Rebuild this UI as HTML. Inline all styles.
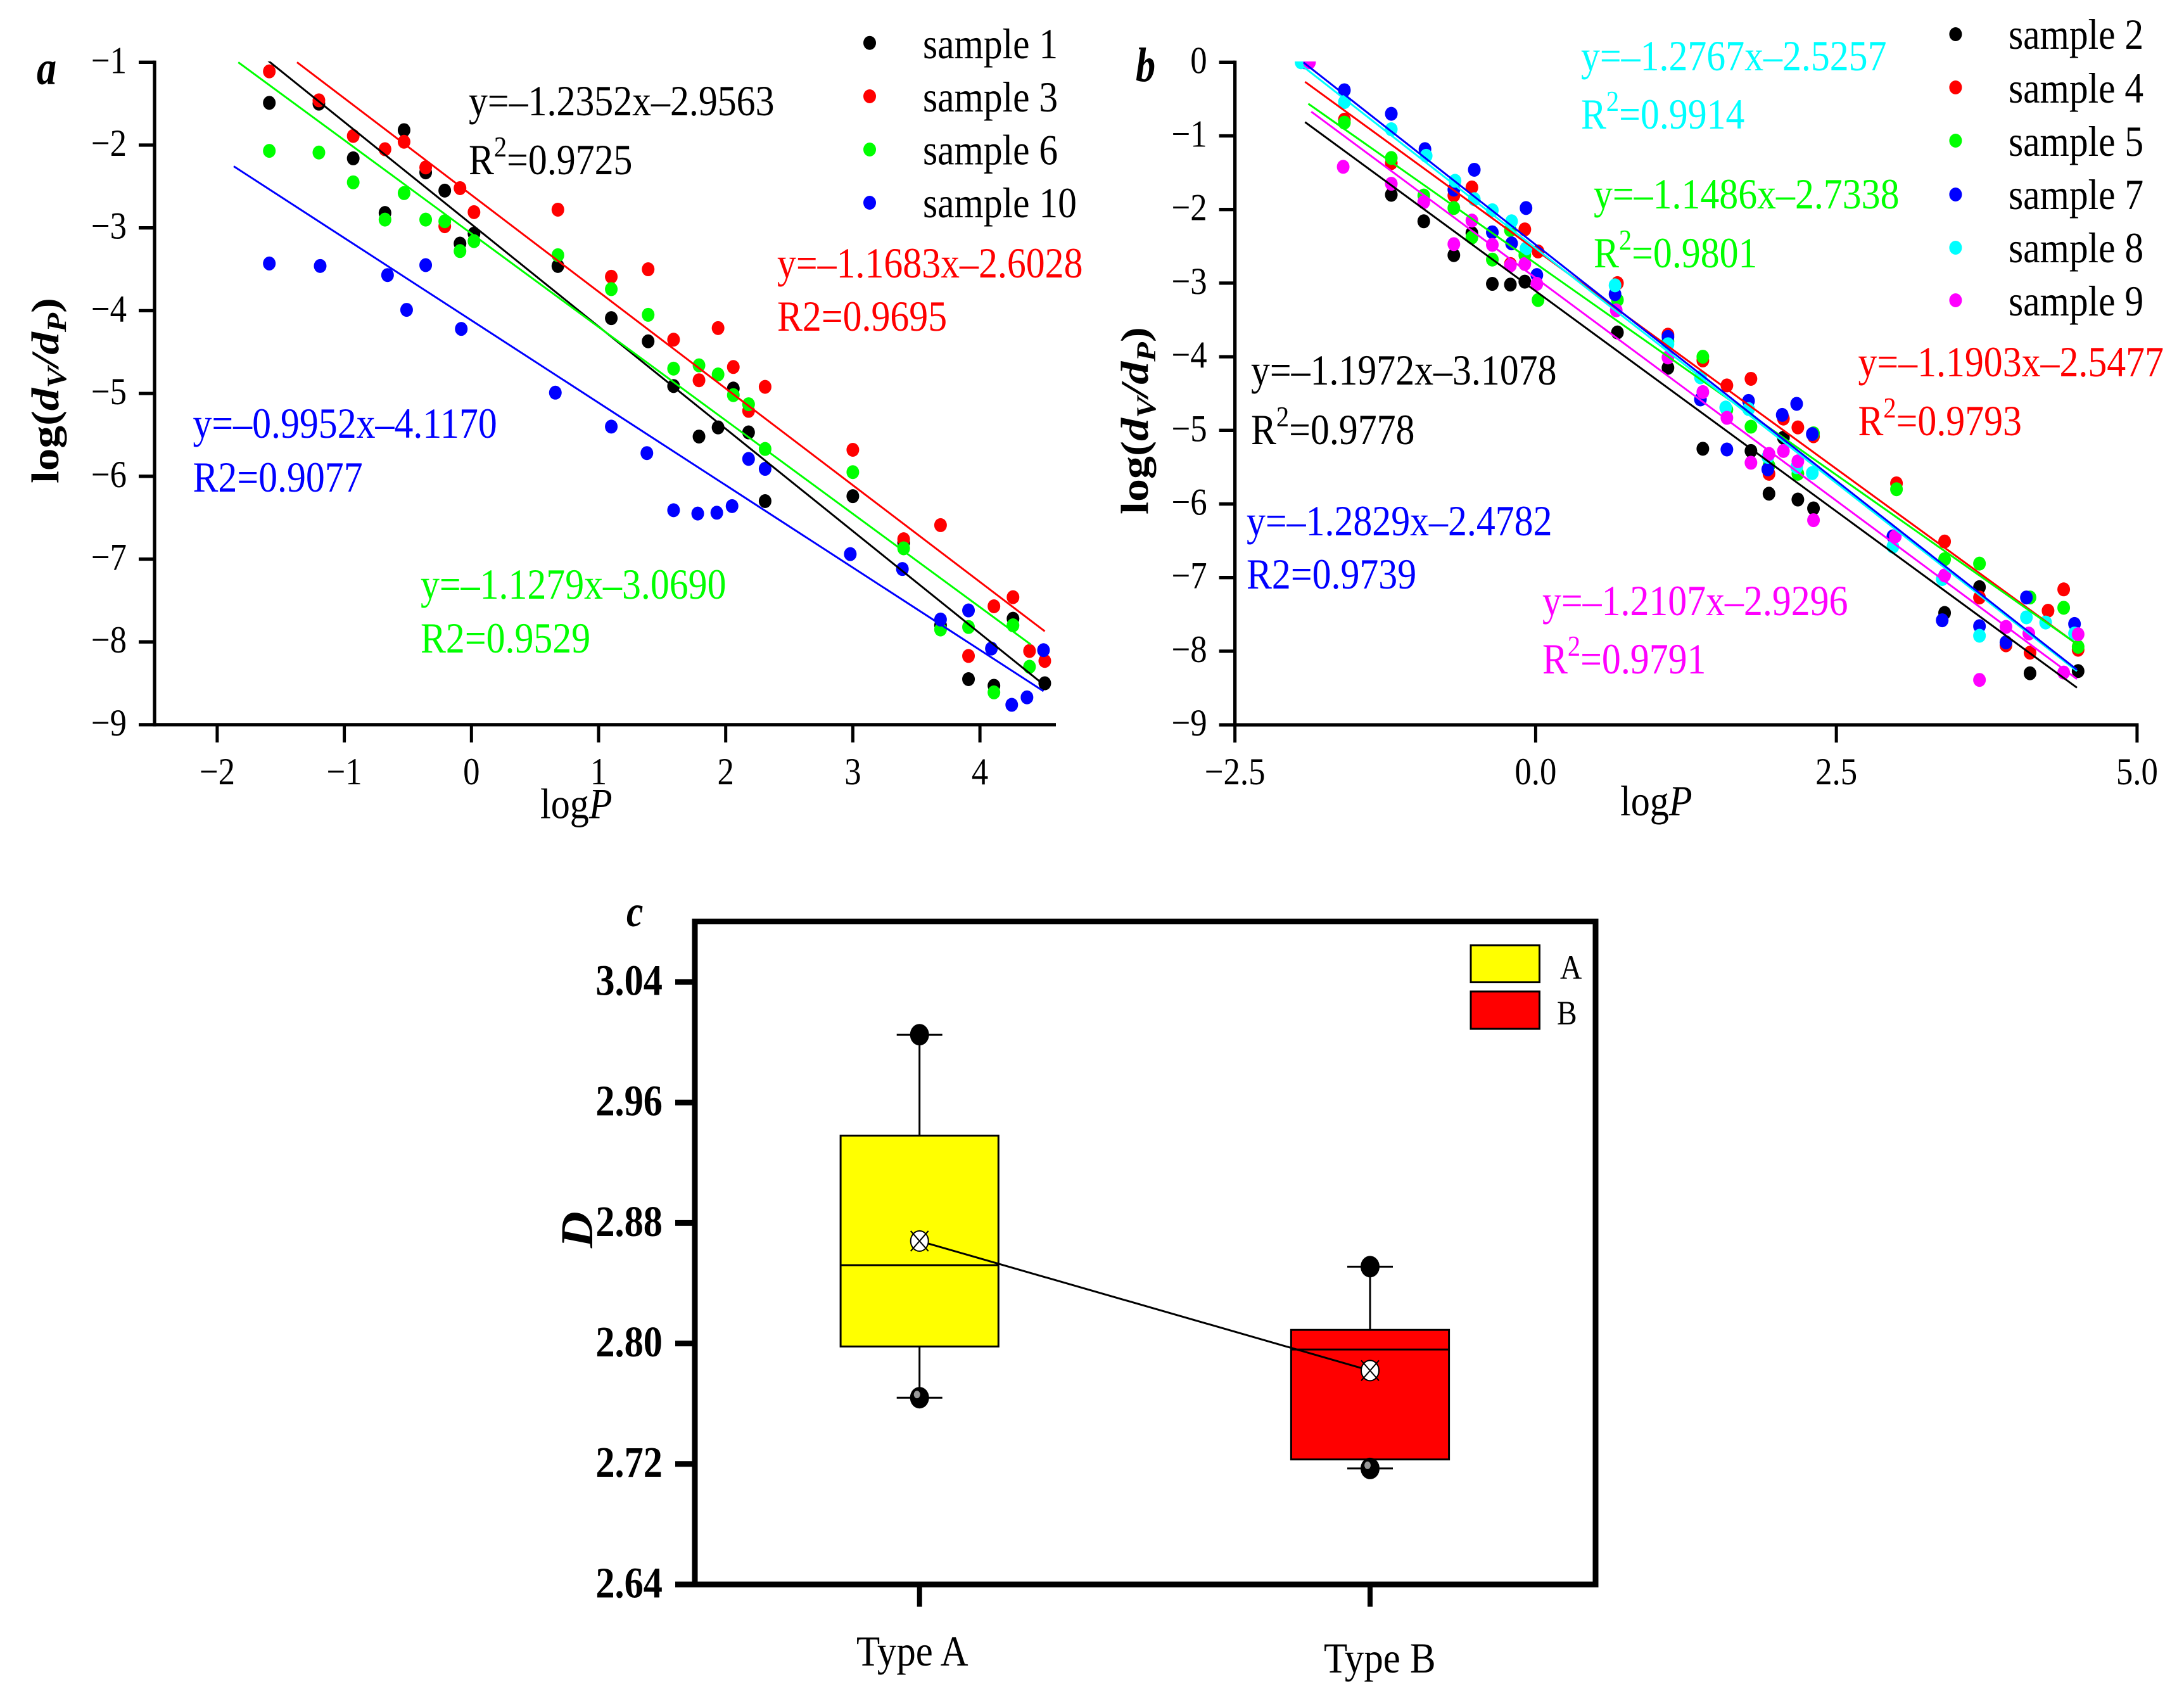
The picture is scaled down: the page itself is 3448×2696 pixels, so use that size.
<!DOCTYPE html>
<html lang="en">
<head>
<meta charset="utf-8">
<title>log-log scatter fits and D box plot</title>
<style>
html,body{margin:0;padding:0;background:#fff;width:3448px;height:2696px;overflow:hidden}
svg{display:block}
text{font-family:"Liberation Serif","Times New Roman",serif;fill:#000}
</style>
</head>
<body>
<svg id="fig" xmlns="http://www.w3.org/2000/svg" width="3448" height="2696" viewBox="0 0 3448 2696">
<defs>
<clipPath id="clipA"><rect x="200" y="97" width="1500" height="1060"/></clipPath>
<clipPath id="clipB"><rect x="1920" y="97" width="1500" height="1060"/></clipPath>
</defs>
<rect x="0" y="0" width="3448" height="2696" fill="#fff"/>
<g id="panelA">
<text transform="translate(58,132.5) scale(.82,1)" font-size="76" font-weight="bold" font-style="italic">a</text>
<text transform="translate(92,763) rotate(-90) scale(.99,.86)" font-size="72" font-weight="bold">log(<tspan font-style="italic">d</tspan><tspan font-style="italic" font-size="50" dy="14">V</tspan><tspan font-style="italic" dy="-14">/d</tspan><tspan font-style="italic" font-size="50" dy="14">P</tspan><tspan dy="-14">)</tspan></text>
<text transform="translate(853,1291.5) scale(.885,1)" font-size="68">log<tspan font-style="italic">P</tspan></text>
<text transform="translate(1457,92) scale(.875,1)" font-size="68">sample 1</text>
<text transform="translate(1457,176) scale(.875,1)" font-size="68">sample 3</text>
<text transform="translate(1457,259.7) scale(.875,1)" font-size="68">sample 6</text>
<text transform="translate(1457,343) scale(.875,1)" font-size="68">sample 10</text>
<text transform="translate(740,182) scale(.88,1)" font-size="68">y=–1.2352x–2.9563</text>
<text transform="translate(740,275) scale(.88,1)" font-size="68">R<tspan font-size="46" dy="-28">2</tspan><tspan dy="28">=0.9725</tspan></text>
<text transform="translate(1227,438) scale(.88,1)" font-size="68" style="fill:#f00">y=–1.1683x–2.6028</text>
<text transform="translate(1227,522) scale(.88,1)" font-size="68" style="fill:#f00">R2=0.9695</text>
<text transform="translate(304.5,691) scale(.88,1)" font-size="68" style="fill:#00f">y=–0.9952x–4.1170</text>
<text transform="translate(304.5,776) scale(.88,1)" font-size="68" style="fill:#00f">R2=0.9077</text>
<text transform="translate(664,945) scale(.88,1)" font-size="68" style="fill:#0f0">y=–1.1279x–3.0690</text>
<text transform="translate(664,1030) scale(.88,1)" font-size="68" style="fill:#0f0">R2=0.9529</text>
</g>
<g id="panelB">
<text transform="translate(1793,128) scale(.82,1)" font-size="76" font-weight="bold" font-style="italic">b</text>
<text transform="translate(1812,812) rotate(-90) scale(1,.86)" font-size="72" font-weight="bold">log(<tspan font-style="italic">d</tspan><tspan font-style="italic" font-size="50" dy="14">V</tspan><tspan font-style="italic" dy="-14">/d</tspan><tspan font-style="italic" font-size="50" dy="14">P</tspan><tspan dy="-14">)</tspan></text>
<text transform="translate(2558,1287) scale(.885,1)" font-size="68">log<tspan font-style="italic">P</tspan></text>
<text transform="translate(3171,77) scale(.875,1)" font-size="68">sample 2</text>
<text transform="translate(3171,162) scale(.875,1)" font-size="68">sample 4</text>
<text transform="translate(3171,246) scale(.875,1)" font-size="68">sample 5</text>
<text transform="translate(3171,330) scale(.875,1)" font-size="68">sample 7</text>
<text transform="translate(3171,414) scale(.875,1)" font-size="68">sample 8</text>
<text transform="translate(3171,498) scale(.875,1)" font-size="68">sample 9</text>
<text transform="translate(2496,111) scale(.88,1)" font-size="68" style="fill:#0ff">y=–1.2767x–2.5257</text>
<text transform="translate(2496,203) scale(.88,1)" font-size="68" style="fill:#0ff">R<tspan font-size="46" dy="-28">2</tspan><tspan dy="28">=0.9914</tspan></text>
<text transform="translate(2516,329) scale(.88,1)" font-size="68" style="fill:#0f0">y=–1.1486x–2.7338</text>
<text transform="translate(2516,422) scale(.88,1)" font-size="68" style="fill:#0f0">R<tspan font-size="46" dy="-28">2</tspan><tspan dy="28">=0.9801</tspan></text>
<text transform="translate(1975,607) scale(.88,1)" font-size="68">y=–1.1972x–3.1078</text>
<text transform="translate(1975,701) scale(.88,1)" font-size="68">R<tspan font-size="46" dy="-28">2</tspan><tspan dy="28">=0.9778</tspan></text>
<text transform="translate(2933.5,594) scale(.88,1)" font-size="68" style="fill:#f00">y=–1.1903x–2.5477</text>
<text transform="translate(2933.5,687) scale(.88,1)" font-size="68" style="fill:#f00">R<tspan font-size="46" dy="-28">2</tspan><tspan dy="28">=0.9793</tspan></text>
<text transform="translate(1968,845) scale(.88,1)" font-size="68" style="fill:#00f">y=–1.2829x–2.4782</text>
<text transform="translate(1968,929) scale(.88,1)" font-size="68" style="fill:#00f">R2=0.9739</text>
<text transform="translate(2435,971) scale(.88,1)" font-size="68" style="fill:#f0f">y=–1.2107x–2.9296</text>
<text transform="translate(2435,1063) scale(.88,1)" font-size="68" style="fill:#f0f">R<tspan font-size="46" dy="-28">2</tspan><tspan dy="28">=0.9791</tspan></text>
</g>
<g id="panelC">
<text transform="translate(989,1462) scale(.85,1)" font-size="70" font-weight="bold" font-style="italic">c</text>
<text transform="translate(935,1970) rotate(-90) scale(1,.9)" font-size="80" font-weight="bold" font-style="italic">D</text>
<rect x="2322" y="1492" width="108.5" height="58.5" fill="#ff0" stroke="#000" stroke-width="3"/>
<rect x="2322" y="1565" width="108.5" height="59" fill="#f00" stroke="#000" stroke-width="3"/>
<text transform="translate(2463,1545) scale(.88,1)" font-size="54">A</text>
<text transform="translate(2458,1617) scale(.88,1)" font-size="54">B</text>
</g>
</svg>
<script>
// Panel a values
const sample1X=[-1.59,-1.20,-0.93,-0.68,-0.53,-0.36,-0.21,-0.09,0.02,0.68,1.10,1.39,1.59,1.79,1.94,2.06,2.18,2.31,3.00,3.40,3.69,3.91,4.11,4.26,4.51];
const sample1Y=[-1.49,-1.50,-2.16,-2.82,-1.82,-2.33,-2.55,-3.19,-3.07,-3.46,-4.09,-4.37,-4.91,-5.52,-5.41,-4.94,-5.47,-6.30,-6.24,-6.80,-7.80,-8.45,-8.53,-7.72,-8.50];
const sample3X=[-1.59,-1.20,-0.93,-0.68,-0.53,-0.36,-0.21,-0.09,0.02,0.68,1.10,1.39,1.59,1.79,1.94,2.06,2.18,2.31,3.00,3.40,3.69,3.91,4.11,4.26,4.39,4.51];
const sample3Y=[-1.11,-1.46,-1.89,-2.05,-1.96,-2.27,-2.98,-2.52,-2.81,-2.78,-3.59,-3.50,-4.35,-4.84,-4.21,-4.68,-5.21,-4.92,-5.68,-6.76,-6.59,-8.17,-7.57,-7.46,-8.11,-8.23];
const sample6X=[-1.59,-1.20,-0.93,-0.68,-0.53,-0.36,-0.21,-0.09,0.02,0.68,1.10,1.39,1.59,1.79,1.94,2.06,2.18,2.31,3.00,3.40,3.69,3.91,4.11,4.26,4.39];
const sample6Y=[-2.07,-2.09,-2.45,-2.90,-2.58,-2.90,-2.92,-3.28,-3.16,-3.33,-3.74,-4.05,-4.70,-4.66,-4.77,-5.02,-5.13,-5.67,-5.95,-6.87,-7.85,-7.82,-8.61,-7.80,-8.30];
const sample10X=[-1.59,-1.19,-0.66,-0.36,-0.51,-0.08,0.66,1.10,1.38,1.59,1.78,1.93,2.05,2.18,2.31,2.98,3.39,3.69,3.91,4.09,4.25,4.37,4.50];
const sample10Y=[-3.43,-3.46,-3.57,-3.45,-3.99,-4.22,-4.99,-5.40,-5.72,-6.41,-6.45,-6.44,-6.36,-5.79,-5.91,-6.94,-7.12,-7.73,-7.62,-8.08,-8.76,-8.67,-8.10];
const fitSlopeA=[-1.2352,-1.1683,-1.1279,-0.9952];
const fitInterceptA=[-2.9563,-2.6028,-3.0690,-4.1170];
const fitFromA=[-1.62,-1.372,-1.834,-1.87];
const fitToA=[4.5,4.51,4.40,4.5];
const xTicksA=[-2,-1,0,1,2,3,4];
const yTicksA=[-1,-2,-3,-4,-5,-6,-7,-8,-9];

// Panel b values
const sample2X=[-1.20,-0.93,-0.68,-0.53,-0.36,-0.21,-0.09,0.68,1.10,1.39,1.79,1.94,2.06,2.18,2.31,3.40,3.69,4.11,4.51];
const sample2Y=[-1.80,-2.16,-2.62,-2.32,-3.01,-3.02,-2.98,-3.67,-4.15,-5.25,-5.28,-5.86,-5.10,-5.94,-6.06,-7.48,-7.13,-8.30,-8.27];
const sample4X=[-1.59,-1.20,-0.68,-0.53,-0.21,-0.09,0.02,0.68,1.10,1.39,1.59,1.79,1.94,2.06,2.18,2.31,3.00,3.40,3.69,3.91,4.11,4.26,4.39,4.51];
const sample4Y=[-0.78,-1.37,-1.81,-1.70,-2.74,-2.27,-2.57,-3.00,-3.70,-4.05,-4.39,-4.30,-5.59,-4.84,-4.96,-5.08,-5.72,-6.51,-7.27,-7.92,-8.02,-7.45,-7.16,-7.98];
const sample5X=[-1.59,-1.20,-0.93,-0.68,-0.53,-0.36,-0.21,-0.09,0.02,0.68,1.10,1.39,1.59,1.79,1.94,2.18,2.31,3.00,3.40,3.69,3.91,4.11,4.39,4.51];
const sample5Y=[-0.82,-1.30,-1.81,-1.98,-2.38,-2.68,-2.28,-2.62,-3.23,-3.23,-3.79,-4.00,-4.72,-4.95,-5.48,-5.59,-5.04,-5.80,-6.75,-6.81,-7.88,-7.27,-7.41,-7.94];
const sample7X=[-1.92,-1.59,-1.20,-0.92,-0.68,-0.51,-0.36,-0.20,-0.08,0.01,0.66,1.10,1.37,1.59,1.77,1.93,2.05,2.17,2.30,2.97,3.38,3.69,3.91,4.08,4.48];
const sample7Y=[0,-0.38,-0.70,-1.18,-1.73,-1.46,-2.31,-2.46,-1.98,-2.89,-3.15,-3.73,-4.58,-5.26,-4.60,-5.53,-4.79,-4.64,-5.05,-6.44,-7.58,-7.66,-7.88,-7.27,-7.63];
const sample8X=[-1.95,-1.59,-1.20,-0.91,-0.67,-0.51,-0.36,-0.20,-0.08,0.66,1.10,1.37,1.58,1.77,1.93,2.17,2.30,2.97,3.38,3.69,4.08,4.24,4.48];
const sample8Y=[0,-0.54,-0.91,-1.27,-1.61,-1.86,-2.01,-2.16,-2.53,-3.03,-3.83,-4.28,-4.69,-4.71,-5.36,-5.50,-5.58,-6.58,-7.02,-7.79,-7.54,-7.61,-7.76];
const sample9X=[-1.88,-1.60,-1.20,-0.93,-0.68,-0.53,-0.36,-0.21,-0.09,0.01,0.67,1.10,1.39,1.59,1.79,1.94,2.06,2.18,2.31,2.99,3.40,3.69,3.91,4.10,4.39,4.51];
const sample9Y=[0,-1.42,-1.65,-1.90,-2.47,-2.15,-2.48,-2.76,-2.74,-3.01,-3.37,-4.01,-4.48,-4.83,-5.44,-5.32,-5.28,-5.42,-6.22,-6.44,-6.97,-8.39,-7.67,-7.76,-8.29,-7.77];
const fitSlopeB=[-1.1972,-1.1903,-1.1486,-1.2107,-1.2767,-1.2829];
const fitInterceptB=[-3.1078,-2.5477,-2.7338,-2.9296,-2.5257,-2.4782];
const fitFromB=[-1.917,-1.917,-1.89,-1.865,-1.98,-1.93];
const fitToB=[4.5,4.5,4.5,4.5,4.5,4.5];
const xTicksB=[-2.5,0,2.5,5];
const yTicksB=[0,-1,-2,-3,-4,-5,-6,-7,-8,-9];

// Panel c values
const boxCategories=['Type A','Type B'];
const boxQ1=[2.798,2.723];
const boxQ3=[2.938,2.809];
const boxMedian=[2.852,2.796];
const boxMean=[2.868,2.782];
const boxMin=[2.764,2.717];
const boxMax=[3.005,2.851];
const yTicksC=[2.64,2.72,2.80,2.88,2.96,3.04];

const NS='http://www.w3.org/2000/svg';
const fig=document.getElementById('fig');
function make(tag,attrs,parent){
  const n=document.createElementNS(NS,tag);
  for(const k in attrs) n.setAttribute(k,attrs[k]);
  parent.appendChild(n);
  return n;
}
function minusText(s){return String(s).replace('-','\u2212');}

// Axis functions
const xA=v=>744.3+200.7*v;
const yA=v=>98.3+(-1-v)*130.7;
const xB=v=>2424.4+189.9*v;
const yB=v=>98.3+(-v)*116.2;
const xC=i=>1451.7+711.3*i;
const yC=v=>2501-(v-2.64)/0.08*190.2;

function drawAxes(parent,o){
  const yAxis=make('line',{x1:o.axisX,x2:o.axisX,y1:o.top-2.7,y2:o.bottom+2.7,stroke:'#000','stroke-width':5.3},parent);
  
  
  const xAxis=make('line',{x1:o.axisX,x2:o.axisEnd,y1:o.bottom,y2:o.bottom,stroke:'#000','stroke-width':5.3},parent);
  
  
  o.yTicks.forEach(v=>{
    const t=make('line',{x1:o.axisX-25,x2:o.axisX,y1:o.yf(v),y2:o.yf(v),stroke:'#000','stroke-width':5.3},parent);
    
    
    const l=make('text',{transform:'translate('+(o.axisX-44)+','+(o.yf(v)+17)+') scale(.88,1)','font-size':60,'text-anchor':'end'},parent);
    l.textContent=minusText(v);
    
    
  });
  o.xTicks.forEach(v=>{
    const t=make('line',{x1:o.xf(v),x2:o.xf(v),y1:o.bottom,y2:o.bottom+28,stroke:'#000','stroke-width':5},parent);
    
    
    const l=make('text',{transform:'translate('+o.xf(v)+','+(o.bottom+94)+') scale(.88,1)','font-size':60,'text-anchor':'middle'},parent);
    l.textContent=minusText(o.xFormat(v));
    
    
  });
}

function drawDots(parent,series,xf,yf,clip){
  const g=make('g',{'clip-path':clip},parent);
  
  
  series.forEach(s=>{
    s.xs.forEach((x,i)=>{
      const c=make('ellipse',{cx:xf(x),cy:yf(s.ys[i]),rx:10,ry:11,fill:s.color},g);
      
      
    });
  });
}
function drawFits(parent,colors,names,slopes,intercepts,from,to,xf,yf,clip){
  const g=make('g',{'clip-path':clip},parent);
  
  
  slopes.forEach((m,i)=>{
    const l=make('line',{x1:xf(from[i]),x2:xf(to[i]),y1:yf(m*from[i]+intercepts[i]),y2:yf(m*to[i]+intercepts[i]),stroke:colors[i],'stroke-width':3},g);
    
    
  });
}
function drawLegendDots(parent,colors,names,x,ys){
  colors.forEach((col,i)=>{
    const d=make('ellipse',{cx:x,cy:ys[i],rx:10,ry:11,fill:col},parent);
    
    
  });
}

// Panel a
const pA=document.getElementById('panelA');
const seriesA=[
  {name:'sample-1',color:'#000',xs:sample1X,ys:sample1Y},
  {name:'sample-3',color:'#f00',xs:sample3X,ys:sample3Y},
  {name:'sample-6',color:'#0f0',xs:sample6X,ys:sample6Y},
  {name:'sample-10',color:'#00f',xs:sample10X,ys:sample10Y}
];
drawAxes(pA,{axisX:244,axisEnd:1667,top:yA(-1),bottom:yA(-9),xf:xA,yf:yA,xTicks:xTicksA,yTicks:yTicksA,xFormat:v=>String(v)});
drawDots(pA,seriesA,xA,yA,'url(#clipA)');
drawFits(pA,seriesA.map(s=>s.color),seriesA.map(s=>s.name),fitSlopeA,fitInterceptA,fitFromA,fitToA,xA,yA,'url(#clipA)');
drawLegendDots(pA,seriesA.map(s=>s.color),seriesA.map(s=>s.name),1373,[67.7,152,236,320]);

// Panel b
const pB=document.getElementById('panelB');
const seriesB=[
  {name:'sample-2',color:'#000',xs:sample2X,ys:sample2Y},
  {name:'sample-4',color:'#f00',xs:sample4X,ys:sample4Y},
  {name:'sample-5',color:'#0f0',xs:sample5X,ys:sample5Y},
  {name:'sample-7',color:'#00f',xs:sample7X,ys:sample7Y},
  {name:'sample-8',color:'#0ff',xs:sample8X,ys:sample8Y},
  {name:'sample-9',color:'#f0f',xs:sample9X,ys:sample9Y}
];
drawAxes(pB,{axisX:xB(-2.5),axisEnd:xB(5)+2.5,top:yB(0),bottom:yB(-9),xf:xB,yf:yB,xTicks:xTicksB,yTicks:yTicksB,xFormat:v=>v.toFixed(1)});
drawDots(pB,seriesB,xB,yB,'url(#clipB)');
drawFits(pB,['#000','#f00','#0f0','#f0f','#0ff','#00f'],['sample-2','sample-4','sample-5','sample-9','sample-8','sample-7'],fitSlopeB,fitInterceptB,fitFromB,fitToB,xB,yB,'url(#clipB)');
drawLegendDots(pB,seriesB.map(s=>s.color),seriesB.map(s=>s.name),3087.4,[54,138,222,307,391,474]);

// Panel c
const pC=document.getElementById('panelC');
const boxFill=['#ff0','#f00'];
const boxHalf=124.6;
const capHalf=36;
boxCategories.forEach((name,i)=>{
  const x=xC(i);
  const whisker=make('line',{x1:x,x2:x,y1:yC(boxMax[i]),y2:yC(boxMin[i]),stroke:'#000','stroke-width':3},pC);
  
  
  [boxMax[i],boxMin[i]].forEach(v=>{
    const cap=make('line',{x1:x-capHalf,x2:x+capHalf,y1:yC(v),y2:yC(v),stroke:'#000','stroke-width':3},pC);
    
    
  });
  const box=make('rect',{x:x-boxHalf,y:yC(boxQ3[i]),width:boxHalf*2,height:yC(boxQ1[i])-yC(boxQ3[i]),fill:boxFill[i],stroke:'#000','stroke-width':3},pC);
  
  
  const med=make('line',{x1:x-boxHalf,x2:x+boxHalf,y1:yC(boxMedian[i]),y2:yC(boxMedian[i]),stroke:'#000','stroke-width':3},pC);
  
  
  const top=make('ellipse',{cx:x,cy:yC(boxMax[i]),rx:15,ry:17,fill:'#000'},pC);
  
  
  const bot=make('ellipse',{cx:x,cy:yC(boxMin[i]),rx:15,ry:17,fill:'#000'},pC);
  
  
  const hi=make('ellipse',{cx:x-4,cy:yC(boxMin[i])-5,rx:5,ry:6,fill:'#999'},pC);
  
  
  const tick=make('line',{x1:x,x2:x,y1:2501,y2:2536,stroke:'#000','stroke-width':8},pC);
  
  
  const lab=make('text',{transform:'translate('+(i===0?1352:2090)+','+(i===0?2629:2640)+') scale(.895,1)','font-size':68},pC);
  lab.textContent=name;
  
  
});
const meanLine=make('polyline',{points:boxCategories.map((c,i)=>xC(i)+','+yC(boxMean[i])).join(' '),fill:'none',stroke:'#000','stroke-width':3},pC);


boxCategories.forEach((name,i)=>{
  const x=xC(i),y=yC(boxMean[i]);
  const m=make('ellipse',{cx:x,cy:y,rx:14,ry:16,fill:'#fff',stroke:'#000','stroke-width':2},pC);
  
  
  const xm=make('path',{d:'M'+(x-14)+' '+(y-16)+'L'+(x+14)+' '+(y+16)+'M'+(x+14)+' '+(y-16)+'L'+(x-14)+' '+(y+16),stroke:'#000','stroke-width':2,fill:'none'},pC);
  
  
});
const frame=make('rect',{x:1097,y:1454.5,width:1422,height:1046.5,fill:'none',stroke:'#000','stroke-width':9},pC);


yTicksC.forEach(v=>{
  const t=make('line',{x1:1066,x2:1097,y1:yC(v),y2:yC(v),stroke:'#000','stroke-width':9},pC);
  
  
  const l=make('text',{transform:'translate(1046,'+(yC(v)+20.4)+') scale(.875,1)','font-size':69,'font-weight':'bold','text-anchor':'end'},pC);
  l.textContent=v.toFixed(2);
  
  
});
</script>
</body>
</html>
